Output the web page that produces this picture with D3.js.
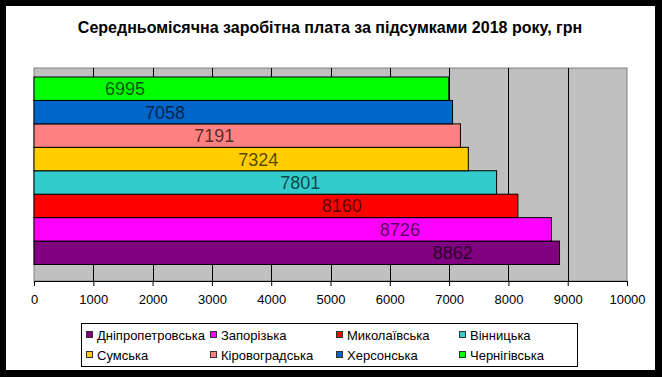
<!DOCTYPE html>
<html>
<head>
<meta charset="utf-8">
<script src="https://cdn.jsdelivr.net/npm/d3@7"></script>
<style>
  body { margin: 0; background: #000; }
  svg { display: block; font-family: Arial, "Liberation Sans", sans-serif; }
</style>
</head>
<body>
<script>
// Regions, in series order (first series sits at the bottom of the stack)
const regions = ["Дніпропетровська", "Запорізька", "Миколаївська", "Вінницька",
                 "Сумська", "Кіровоградська", "Херсонська", "Чернігівська"];
const salaries = [8862, 8726, 8160, 7801, 7324, 7191, 7058, 6995];
const colors = ["#800080", "#ff00ff", "#ff0000", "#33cccc",
                "#ffcc00", "#ff8080", "#0066cc", "#00ff00"];
const xTicks = [0, 1000, 2000, 3000, 4000, 5000, 6000, 7000, 8000, 9000, 10000];
const title = "Середньомісячна заробітна плата за підсумками 2018 року, грн";

// where each value label was dragged to (in axis units)
const labelAt = [7060, 6170, 5190, 4490, 3780, 3040, 2210, 1535];

const width = 662, height = 377;
const plot = { left: 34, right: 627, top: 68, bottom: 281 };

const svg = d3.select("body").append("svg")
    .attr("width", width)
    .attr("height", height);

// black frame + white page
svg.append("rect").attr("width", width).attr("height", height).attr("fill", "#000");
svg.append("rect")
    .attr("x", 6).attr("y", 6)
    .attr("width", 649).attr("height", 364)
    .attr("fill", "#fff");

svg.append("text")
    .attr("x", 330).attr("y", 33)
    .attr("text-anchor", "middle")
    .attr("font-size", 16)
    .attr("font-weight", "bold")
    .text(title);

const x = d3.scaleLinear()
    .domain([0, 10000])
    .range([plot.left, plot.right]);

// bars stack from the top: last series first
const y = d3.scaleBand()
    .domain(regions.slice().reverse())
    .range([77, 264.5])
    .padding(0);

// plot area
svg.append("rect")
    .attr("x", plot.left).attr("y", plot.top)
    .attr("width", plot.right - plot.left)
    .attr("height", plot.bottom - plot.top)
    .attr("fill", "#c0c0c0")
    .attr("stroke", "#808080");

// vertical grid lines
svg.append("g")
    .selectAll("line")
    .data(xTicks.slice(1, -1))
    .join("line")
    .attr("x1", d => Math.round(x(d)) + 0.5).attr("x2", d => Math.round(x(d)) + 0.5)
    .attr("y1", plot.top).attr("y2", plot.bottom)
    .attr("stroke", "#000");

// bars
svg.append("g")
    .selectAll("rect")
    .data(regions)
    .join("rect")
    .attr("x", x(0))
    .attr("y", d => y(d))
    .attr("width", (d, i) => x(salaries[i]) - x(0))
    .attr("height", y.bandwidth())
    .attr("fill", (d, i) => colors[i])
    .attr("stroke", "#000")
    .attr("stroke-width", 1);

// value labels
svg.append("g")
    .selectAll("text")
    .data(regions)
    .join("text")
    .attr("x", (d, i) => x(labelAt[i]))
    .attr("y", d => y(d) + y.bandwidth() / 2)
    .attr("dy", "0.36em")
    .attr("text-anchor", "middle")
    .attr("font-size", 18)
    .attr("fill", "#000")
    .attr("fill-opacity", 0.68)
    .text((d, i) => salaries[i]);

// x axis
const xAxis = svg.append("g")
    .attr("transform", `translate(0,${plot.bottom})`)
    .call(d3.axisBottom(x).tickValues(xTicks).tickFormat(d3.format("d")).tickSize(5).tickPadding(9));
xAxis.select(".domain").attr("stroke", "#000");
xAxis.selectAll(".tick line").attr("stroke", "#000");
xAxis.selectAll("text")
    .attr("font-size", 13)
    .attr("font-family", "Arial, 'Liberation Sans', sans-serif")
    .attr("fill", "#000");

// legend
const legend = svg.append("g");
legend.append("rect")
    .attr("x", 81.5).attr("y", 323.5)
    .attr("width", 496).attr("height", 43)
    .attr("fill", "#fff")
    .attr("stroke", "#000");

const colX = [86, 210, 336, 459];
const rowY = [335, 355];
const item = legend.selectAll("g")
    .data(regions)
    .join("g")
    .attr("transform", (d, i) => `translate(${colX[i % 4]},${rowY[Math.floor(i / 4)]})`);
item.append("rect")
    .attr("x", 0.5).attr("y", -3.5)
    .attr("width", 6).attr("height", 6)
    .attr("fill", (d, i) => colors[i])
    .attr("stroke", "#333");
item.append("text")
    .attr("x", 11)
    .attr("dy", "0.36em")
    .attr("font-size", 13)
    .text(d => d);
</script>
</body>
</html>
